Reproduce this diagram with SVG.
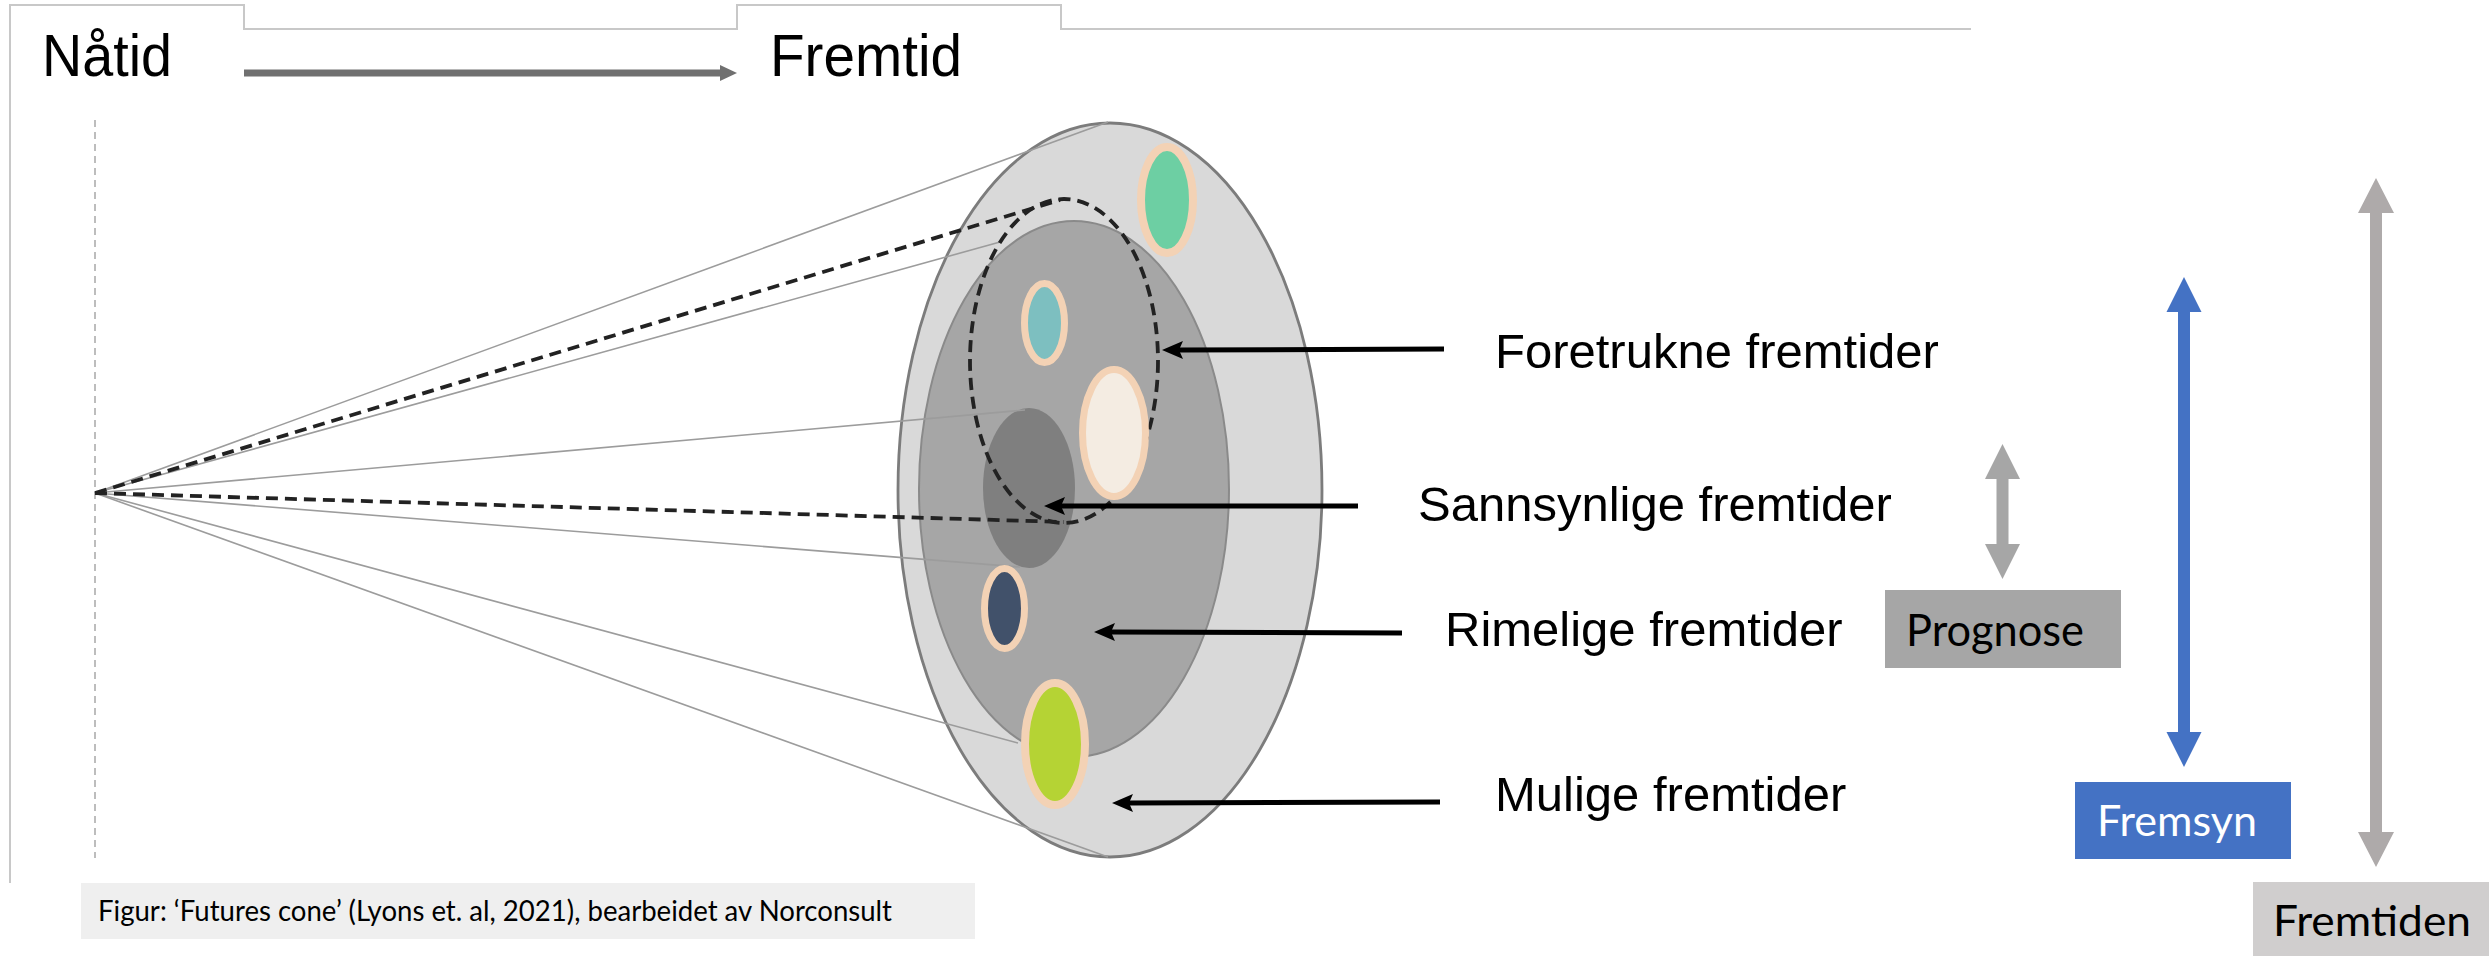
<svg xmlns="http://www.w3.org/2000/svg" width="2489" height="956" viewBox="0 0 2489 956">
<style>
.arial{font-family:"Liberation Sans",Arial,sans-serif;fill:#000}
.cal{font-family:Lato,"Open Sans",sans-serif}
.cone{stroke:#9c9c9c;stroke-width:1.6;fill:none}
.dash{stroke:#222;stroke-width:3.8;fill:none;stroke-dasharray:12 7}
.pt{stroke:#f3d2b5}
.ptr{stroke:#000;stroke-width:5;fill:none;marker-end:url(#head)}
</style>
<defs>
<marker id="head" markerUnits="userSpaceOnUse" markerWidth="22" markerHeight="20" refX="4" refY="9" orient="auto">
<path d="M0,0 L21,9 L0,18 L4,9 z" fill="#000"/>
</marker>
<marker id="grayhead" markerUnits="userSpaceOnUse" markerWidth="20" markerHeight="20" refX="2" refY="9" orient="auto">
<path d="M0,1 L17,9 L0,17 z" fill="#707070"/>
</marker>
</defs>
<rect width="2489" height="956" fill="#fff"/>

<g id="frame">
<path d="M10,883 L10,5 L244,5 L244,29 L737,29 L737,5 L1061,5 L1061,29 L1971,29" fill="none" stroke="#c8c8c8" stroke-width="2"/>
</g>

<g id="timeline">
<text class="arial" x="42" y="76" font-size="60" textLength="130" lengthAdjust="spacingAndGlyphs">Nåtid</text>
<text class="arial" x="770" y="76" font-size="60" textLength="192" lengthAdjust="spacingAndGlyphs">Fremtid</text>
<line x1="244" y1="73" x2="722" y2="73" stroke="#707070" stroke-width="7" marker-end="url(#grayhead)"/>
</g>

<g id="present-line">
<line x1="95" y1="120" x2="95" y2="858" stroke="#a8a8a8" stroke-width="1.5" stroke-dasharray="7 5"/>
</g>

<g id="cone">
<ellipse id="mulige" cx="1110" cy="490" rx="212" ry="367" fill="#d9d9d9" stroke="#7c7c7c" stroke-width="2.8"/>
<ellipse id="rimelige" cx="1074" cy="489" rx="155" ry="268" fill="#a6a6a6" stroke="#8a8a8a" stroke-width="2"/>
<ellipse id="sannsynlige" cx="1029" cy="488" rx="46" ry="80" fill="#7f7f7f"/>
</g>

<g id="cone-lines">
<line class="cone" x1="95" y1="493" x2="1108" y2="122"/>
<line class="cone" x1="95" y1="493" x2="1000" y2="242"/>
<line class="cone" x1="95" y1="493" x2="1025" y2="410"/>
<line class="cone" x1="95" y1="493" x2="1020" y2="567"/>
<line class="cone" x1="95" y1="493" x2="1018" y2="743"/>
<line class="cone" x1="95" y1="493" x2="1108" y2="857"/>
<line class="dash" x1="95" y1="493" x2="1060" y2="200"/>
<line class="dash" x1="95" y1="493" x2="1064" y2="522"/>
</g>

<g id="foretrukne">
<ellipse cx="1064" cy="361" rx="94" ry="162" class="dash"/>
</g>

<g id="futures">
<ellipse cx="1167" cy="200" rx="26" ry="53" fill="#6dcfa3" class="pt" stroke-width="8"/>
<ellipse cx="1044.5" cy="323" rx="20" ry="39.5" fill="#7dbfc0" class="pt" stroke-width="7"/>
<ellipse cx="1114" cy="433" rx="31.5" ry="63.5" fill="#f4ece2" class="pt" stroke-width="7"/>
<ellipse cx="1004.5" cy="608.5" rx="20" ry="40" fill="#41516a" class="pt" stroke-width="7"/>
<ellipse cx="1055" cy="744" rx="30" ry="61" fill="#b5d334" class="pt" stroke-width="8"/>
</g>

<g id="connectors">
<line class="ptr" x1="1444" y1="349" x2="1179" y2="350"/>
<line class="ptr" x1="1358" y1="506" x2="1061" y2="506"/>
<line class="ptr" x1="1402" y1="633" x2="1111" y2="632"/>
<line class="ptr" x1="1440" y1="802" x2="1129" y2="803"/>
</g>

<g id="labels">
<text class="arial" x="1495" y="368" font-size="49">Foretrukne fremtider</text>
<text class="arial" x="1418" y="521" font-size="49">Sannsynlige fremtider</text>
<text class="arial" x="1445" y="646" font-size="49">Rimelige fremtider</text>
<text class="arial" x="1495" y="811" font-size="49">Mulige fremtider</text>
</g>

<g id="prognose">
<polygon points="2002.5,444 2020,479 2008.5,479 2008.5,544 2020,544 2002.5,579 1985,544 1996.5,544 1996.5,479 1985,479" fill="#a6a6a6"/>
<rect x="1885" y="590" width="236" height="78" fill="#a6a6a6"/>
<text class="cal" x="1906" y="646" font-size="44" fill="#000" textLength="178" lengthAdjust="spacingAndGlyphs">Prognose</text>
</g>

<g id="fremsyn">
<polygon points="2184,277 2201.5,312 2190,312 2190,732 2201.5,732 2184,767 2166.5,732 2178,732 2178,312 2166.5,312" fill="#4472c4"/>
<rect x="2075" y="782" width="216" height="77" fill="#4472c4"/>
<text class="cal" x="2097" y="836" font-size="42" fill="#fff" textLength="160" lengthAdjust="spacingAndGlyphs">Fremsyn</text>
</g>

<g id="fremtiden">
<polygon points="2376,178 2394,213 2382,213 2382,832 2394,832 2376,867 2358,832 2370,832 2370,213 2358,213" fill="#aeaaaa"/>
<rect x="2253" y="882" width="236" height="74" fill="#d0cece"/>
<text class="cal" x="2273" y="936" font-size="42" fill="#000" textLength="198" lengthAdjust="spacingAndGlyphs">Fremtiden</text>
</g>

<g id="caption">
<rect x="81" y="883" width="894" height="56" fill="#efefef"/>
<text class="cal" x="98" y="921" font-size="29" fill="#000" textLength="794" lengthAdjust="spacingAndGlyphs">Figur: ‘Futures cone’ (Lyons et. al, 2021), bearbeidet av Norconsult</text>
</g>
</svg>
